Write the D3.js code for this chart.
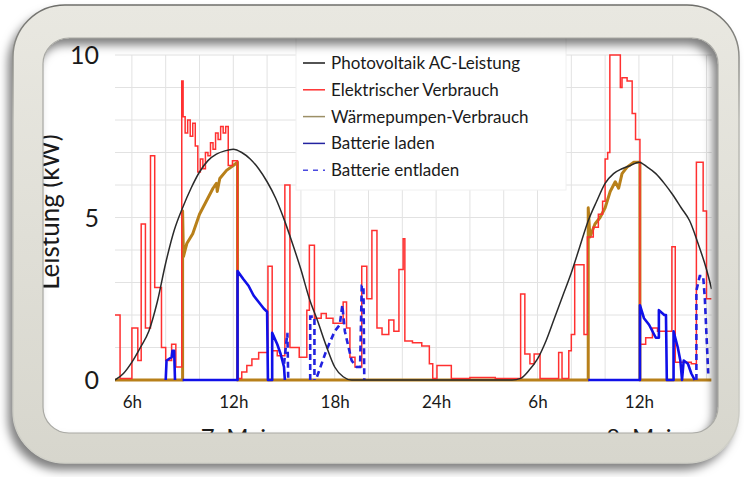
<!DOCTYPE html>
<html>
<head>
<meta charset="utf-8">
<script src="https://cdn.jsdelivr.net/npm/d3@7"></script>
<style>
  body { margin: 0; background: #fff; }
  svg { display: block; font-family: Lato, "Open Sans", sans-serif; }
</style>
</head>
<body>
<svg id="chart" width="744" height="477"></svg>
<script>
// hours are counted from midnight of 7. Mai (so 30 = 6h on 8. Mai)
var tickHours = [6, 12, 18, 24, 30, 36];
var tickLabels = ['6h', '12h', '18h', '24h', '6h', '12h'];
var dayHours = [12, 36];
var dayLabels = ['7. Mai', '8. Mai'];
var yTicks = [0, 5, 10];

var legendNames = ['Photovoltaik AC-Leistung', 'Elektrischer Verbrauch', 'Wärmepumpen-Verbrauch', 'Batterie laden', 'Batterie entladen'];

var pvLeistung = [[5.0,0],[5.5,0.2],[6.0,0.55],[6.5,1.0],[7.0,1.5],[7.5,2.4],[8.0,3.6],[8.5,4.6],[9.0,5.3],[9.5,5.9],
  [10.0,6.4],[10.5,6.75],[11.0,6.95],[11.5,7.05],[12.0,7.1],[12.5,7.0],[13.0,6.8],[13.5,6.5],[14.0,6.1],[14.5,5.6],
  [15.0,4.95],[15.5,4.2],[16.0,3.4],[16.5,2.5],[17.0,1.8],[17.5,1.05],[18.0,0.4],[18.5,0.1],[19.0,0],[28.5,0],
  [29.0,0.05],[29.5,0.3],[30.0,0.65],[30.5,1.2],[31.0,1.9],[31.5,2.6],[32.0,3.3],[32.5,4.1],[33.0,4.9],[33.5,5.5],
  [34.0,6.05],[34.5,6.35],[35.0,6.5],[35.5,6.6],[36.0,6.7],[36.5,6.55],[37.0,6.35],[37.5,6.05],[38.0,5.7],[38.5,5.3],
  [39.0,4.9],[39.5,4.2],[40.0,3.4],[40.3,2.8]];

// step values: each pair = [start hour, kW]
var verbrauch = [[5.0,2.0],[5.3,0.05],[6.0,1.6],[6.35,0.6],[6.55,4.8],[6.8,1.6],[7.1,6.9],[7.35,2.85],[7.75,1.0],[8.0,0.6],
  [8.35,1.1],[8.6,0.4],[8.95,9.2],[9.03,8.1],[9.15,7.6],[9.3,8.0],[9.45,7.5],[9.6,7.9],[9.75,7.2],[9.9,6.4],
  [10.05,6.8],[10.2,6.5],[10.35,7.0],[10.5,6.9],[10.65,7.3],[10.8,7.1],[10.95,7.6],[11.1,7.4],[11.25,7.8],[11.4,7.6],
  [11.55,7.8],[11.7,6.6],[11.95,6.75],[12.25,0.05],[12.5,0.25],[12.8,0.45],[13.1,0.65],[13.5,0.85],[14.05,3.5],[14.3,0.9],
  [14.6,0.75],[15.05,6.0],[15.35,1.0],[15.9,0.7],[16.35,2.15],[16.5,4.15],[16.8,1.9],[17.2,2.05],[17.5,1.9],[17.9,1.75],
  [18.5,2.4],[18.7,1.6],[18.9,0.7],[19.2,0.4],[19.6,3.5],[19.9,2.5],[20.2,4.6],[20.5,1.6],[20.8,1.4],[21.2,1.85],
  [21.5,1.5],[21.8,3.4],[22.05,4.35],[22.15,1.2],[22.6,1.15],[23.15,1.05],[23.6,0.5],[23.8,0.05],[24.05,0.45],[24.9,0.05],
  [26.0,0.08],[27.5,0.05],[29.0,2.65],[29.25,0.8],[29.55,0.5],[29.8,0.8],[30.15,0.05],[31.25,0.85],[31.45,0.05],[31.85,0.9],
  [32.0,1.4],[32.2,3.55],[32.75,1.4],[32.95,4.4],[33.3,4.7],[33.6,5.1],[33.85,5.5],[34.0,6.8],[34.15,7.0],[34.28,10.0],
  [34.9,9.0],[35.0,9.3],[35.3,9.2],[35.6,8.2],[35.8,7.4],[36.06,1.1],[36.4,1.3],[36.8,1.6],[37.1,1.5],[37.95,4.1],
  [38.15,0.55],[39.1,0.5],[39.4,6.7],[39.8,5.2],[40.0,2.5],[40.3,2.5]];

var waermepumpe = [[5.0,0],[9.0,0],[9.0,5.2],[9.05,3.8],[9.25,4.2],[9.6,4.5],[10.0,5.1],[10.4,5.5],[10.8,5.9],[11.0,6.05],
  [11.05,5.8],[11.2,6.2],[11.6,6.45],[12.0,6.6],[12.25,6.7],[12.25,0],[33.0,0],[33.0,5.3],[33.1,4.4],[33.4,4.8],
  [33.7,5.0],[34.0,5.3],[34.3,5.8],[34.6,6.1],[34.8,5.9],[35.0,6.35],[35.3,6.55],[35.7,6.7],[36.06,6.7],[36.06,0],[40.3,0]];

// null = gap in the line
var batterieLaden = [[8.0,0],[8.05,0.6],[8.35,0.7],[8.4,0.9],[8.5,0.9],[8.55,0], null,
  [9.0,0],[12.25,0],[12.25,3.35],[12.6,3.1],[12.9,2.9],[13.2,2.6],[13.5,2.4],[13.8,2.2],[14.0,2.1],[14.05,0],[14.3,0],
  [14.3,1.45],[14.6,1.1],[14.8,0.8],[15.0,0.4],[15.05,0], null,
  [33.0,0],[36.06,0],[36.06,2.3],[36.3,1.9],[36.6,1.7],[37.0,1.3],[37.18,1.3],[37.18,2.15],[37.5,2.0],[37.6,2.0],
  [37.65,0],[38.05,0],[38.05,1.5],[38.3,1.0],[38.45,0.6],[38.55,0],[38.65,0.6],[38.9,0.5],[39.1,0.2],[39.3,0]];

var batterieEntladen = [[15.0,0.5],[15.2,1.45],[15.25,0], null,
  [16.55,0],[16.55,1.95],[16.8,1.95],[16.8,0], null,
  [16.95,0.1],[17.5,0.9],[18.0,1.5],[18.3,1.7],[18.45,2.3],[18.6,1.5],[19.0,0.6],[19.3,0.4],[19.5,0.4],[19.6,2.9],
  [19.7,2.9],[19.75,0], null,
  [39.4,0],[39.4,2.75],[39.6,3.2],[39.8,3.2],[39.9,2.5],[40.1,0.2]];

var svg = d3.select('#chart');

var x = d3.scaleLinear().domain([5, 40.3]).range([115, 711.6]);
var y = d3.scaleLinear().domain([0, 10]).range([380, 55]);

var defs = svg.append('defs');
defs.append('clipPath').attr('id', 'plotClip')
  .append('rect').attr('x', x(5)).attr('y', y(10) - 2).attr('width', x(40.3) - x(5)).attr('height', y(0) - y(10) + 4);

// grid
var grid = svg.append('g');
grid.selectAll('line.v').data(d3.range(6, 41, 2)).enter().append('line')
  .attr('x1', function(d) { return x(d); }).attr('x2', function(d) { return x(d); })
  .attr('y1', y(10)).attr('y2', y(0))
  .attr('stroke', '#e2e2e2').attr('stroke-width', 1);
grid.selectAll('line.h').data(d3.range(1, 11)).enter().append('line')
  .attr('x1', x(5)).attr('x2', x(40.3))
  .attr('y1', function(d) { return y(d); }).attr('y2', function(d) { return y(d); })
  .attr('stroke', '#e2e2e2').attr('stroke-width', 1);

// axes (labels only, no domain line)
var xAxis = d3.axisBottom(x).tickValues(tickHours).tickSize(0).tickPadding(0)
  .tickFormat(function(d, i) { return tickLabels[i]; });
var gx = svg.append('g').attr('transform', 'translate(0,' + 402 + ')').call(xAxis);
gx.select('.domain').remove();
gx.selectAll('text').attr('font-size', 17).attr('fill', '#1a1a1a').attr('font-family', 'Lato, sans-serif').attr('dy', '0.35em');

var yAxis = d3.axisLeft(y).tickValues(yTicks).tickSize(0).tickPadding(0);
var gy = svg.append('g').attr('transform', 'translate(99,0)').call(yAxis);
gy.select('.domain').remove();
gy.selectAll('text').attr('font-size', 25).attr('fill', '#1a1a1a').attr('font-family', 'Lato, sans-serif').attr('dy', '0.35em');

svg.selectAll('text.day').data(dayLabels).enter().append('text')
  .attr('class', 'day')
  .attr('x', function(d, i) { return x(dayHours[i]); })
  .attr('y', 446)
  .attr('text-anchor', 'middle')
  .attr('font-size', 24).attr('fill', '#1a1a1a')
  .text(function(d) { return d; });

svg.append('text')
  .attr('transform', 'translate(59,212) rotate(-90)')
  .attr('text-anchor', 'middle')
  .attr('font-size', 26).attr('fill', '#1a1a1a')
  .text('Leistung (kW)');

// lines
var plot = svg.append('g').attr('clip-path', 'url(#plotClip)');

var lineLin = d3.line()
  .defined(function(d) { return d !== null; })
  .x(function(d) { return x(d[0]); })
  .y(function(d) { return y(d[1]); });
var lineStep = d3.line()
  .curve(d3.curveStepAfter)
  .x(function(d) { return x(d[0]); })
  .y(function(d) { return y(d[1]); });

plot.append('path').datum(waermepumpe).attr('d', lineLin)
  .attr('fill', 'none').attr('stroke', '#b8801a').attr('stroke-width', 3).attr('stroke-linejoin', 'round');
plot.append('path').datum(verbrauch).attr('d', lineStep)
  .attr('fill', 'none').attr('stroke', '#ff3030').attr('stroke-width', 1.5);
plot.append('path').datum(batterieLaden).attr('d', lineLin)
  .attr('fill', 'none').attr('stroke', '#1010e8').attr('stroke-width', 2.6).attr('stroke-linejoin', 'round');
plot.append('path').datum(batterieEntladen).attr('d', lineLin)
  .attr('fill', 'none').attr('stroke', '#2222e0').attr('stroke-width', 2.6).attr('stroke-dasharray', '6,4');
plot.append('path').datum(pvLeistung).attr('d', lineLin.curve(d3.curveMonotoneX))
  .attr('fill', 'none').attr('stroke', '#2a2a2a').attr('stroke-width', 1.5);

// legend
var legColors = ['#1a1a1a', '#ff3030', '#9c8f66', '#2323a0', '#4a4ae0'];
var leg = svg.append('g');
leg.append('rect').attr('x', 296).attr('y', 36).attr('width', 270).attr('height', 154)
  .attr('fill', '#fff').attr('stroke', '#f0f0f0');
var rows = leg.selectAll('g.row').data(legendNames).enter().append('g')
  .attr('transform', function(d, i) { return 'translate(0,' + (63 + i * 26.8) + ')'; });
rows.append('line').attr('x1', 303).attr('x2', 325).attr('y1', 0).attr('y2', 0)
  .attr('stroke', function(d, i) { return legColors[i]; }).attr('stroke-width', 1.5)
  .attr('stroke-dasharray', function(d, i) { return i === 4 ? '5,5' : null; });
rows.append('text').attr('x', 331).attr('y', 0).attr('dy', '0.35em')
  .attr('font-size', 17).attr('fill', '#1a1a1a').text(function(d) { return d; });

// frame around everything
function roundRect(p, rx, ry, w, h, r) {
  p.moveTo(rx + r, ry);
  p.lineTo(rx + w - r, ry);
  p.arcTo(rx + w, ry, rx + w, ry + r, r);
  p.lineTo(rx + w, ry + h - r);
  p.arcTo(rx + w, ry + h, rx + w - r, ry + h, r);
  p.lineTo(rx + r, ry + h);
  p.arcTo(rx, ry + h, rx, ry + h - r, r);
  p.lineTo(rx, ry + r);
  p.arcTo(rx, ry, rx + r, ry, r);
  p.closePath();
}
var outer = d3.path();
roundRect(outer, 13, 5, 726, 458, 52);
var inner = d3.path();
roundRect(inner, 43, 38, 675, 395, 26);

var fg = defs.append('linearGradient').attr('id', 'frameFill').attr('x1', 0).attr('y1', 0).attr('x2', 0).attr('y2', 1);
fg.append('stop').attr('offset', 0).attr('stop-color', '#e9e8e1');
fg.append('stop').attr('offset', 1).attr('stop-color', '#d7d6cd');
var sg = defs.append('linearGradient').attr('id', 'frameEdge').attr('x1', 0).attr('y1', 0).attr('x2', 0).attr('y2', 1);
sg.append('stop').attr('offset', 0).attr('stop-color', '#6e6e6a');
sg.append('stop').attr('offset', 0.25).attr('stop-color', '#b8b8b2');
sg.append('stop').attr('offset', 1).attr('stop-color', '#d0d0c8');
var sh = defs.append('filter').attr('id', 'shadow').attr('x', -0.1).attr('y', -0.1).attr('width', 1.2).attr('height', 1.2);
sh.append('feDropShadow').attr('dx', -5).attr('dy', 7).attr('stdDeviation', 5)
  .attr('flood-color', '#000').attr('flood-opacity', 0.5);

svg.append('path').attr('d', outer.toString() + inner.toString())
  .attr('fill-rule', 'evenodd').attr('fill', 'url(#frameFill)')
  .attr('filter', 'url(#shadow)');
svg.append('path').attr('d', outer.toString())
  .attr('fill', 'none').attr('stroke', 'url(#frameEdge)').attr('stroke-width', 1.5);
svg.append('path').attr('d', inner.toString())
  .attr('fill', 'none').attr('stroke', '#a9a9a4').attr('stroke-width', 1.2);
</script>
</body>
</html>
